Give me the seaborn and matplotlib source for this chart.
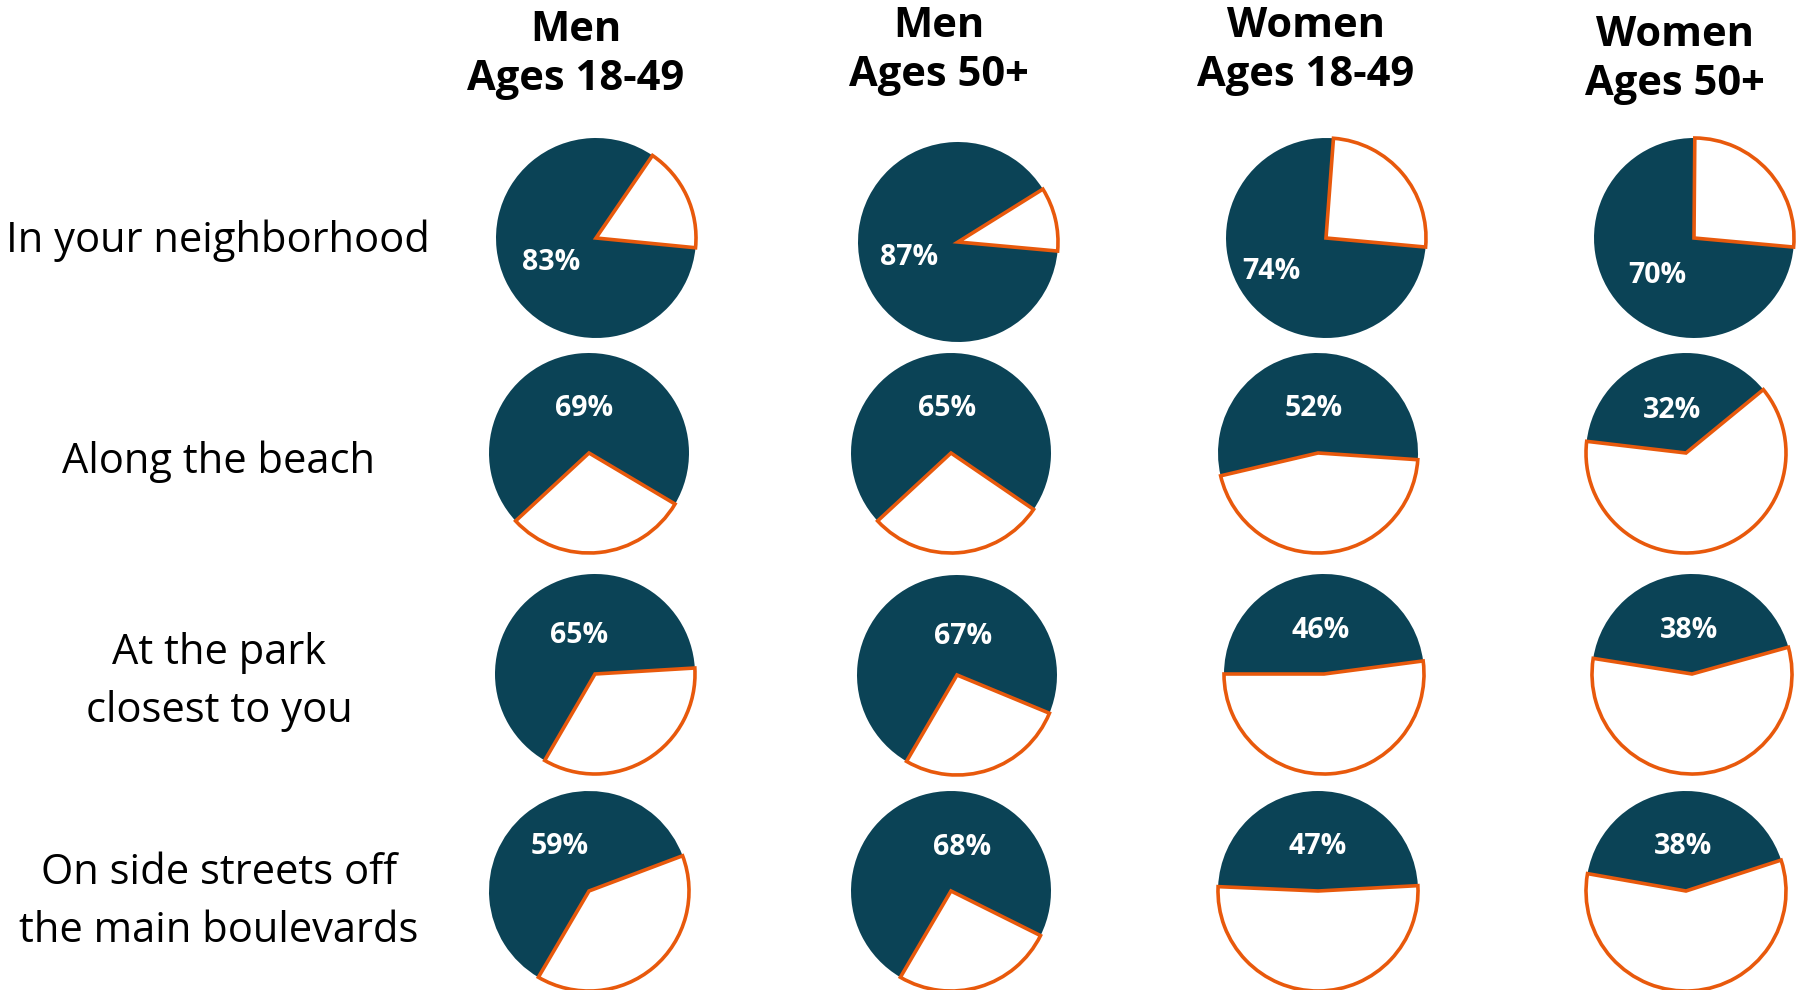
import numpy as np
import matplotlib
matplotlib.use("Agg")
import matplotlib.pyplot as plt
import seaborn as sns

sns.set_theme(style="white")
plt.rcParams['font.family'] = ['Open Sans', 'DejaVu Sans']

# data
groups = ["Men\nAges 18-49", "Men\nAges 50+", "Women\nAges 18-49", "Women\nAges 50+"]
places = ["In your neighborhood", "Along the beach",
          "At the park\nclosest to you", "On side streets off\nthe main boulevards"]
share = [[83, 87, 74, 70],
         [69, 65, 52, 32],
         [65, 67, 46, 38],
         [59, 68, 47, 38]]
rest = [[17, 10, 25, 25],
        [29, 26, 43, 54],
        [34, 25, 50, 50],
        [38, 24, 50, 52]]

# layout (pixels in a 1796x990 canvas)
W, H = 1796, 990
start = [[-5.6, -5.2, -5.2, -5.2],
         [-137.2, -137.2, 193.2, 173.3],
         [-120.2, -120.3, 180.0, 171.0],
         [-120.4, -120.4, 177.5, 170.0]]
centers = [[(596, 238), (958, 242), (1326, 238), (1694, 238)],
           [(589, 453), (951, 453), (1318, 453), (1686, 453)],
           [(595, 674), (957, 675), (1324, 674), (1692, 674)],
           [(589, 891), (951, 891), (1318, 891), (1686, 891)]]
# small nudges of the % labels (px, y down)
nudge = [[(0, 0), (0, 0), (-16, -2), (0, 0)],
         [(0, 2), (0, 2), (0, 2), (0, 2)],
         [(10, 1), (22, 5), (0, 3), (0, 3)],
         [(3, -10), (25, 1), (0, 2), (0, 2)]]
title_pos = [(576, 55), (939, 51), (1306, 51), (1675, 60)]
label_pos = [(218, 241), (219, 462), (219, 682), (219, 902)]

dark = "#0B4356"
orange = "#E8590C"
R = 100
pad = 1.03

fig = plt.figure(figsize=(W / 100, H / 100), dpi=100)

for i in range(4):
    for j in range(4):
        cx, cy = centers[i][j]
        rr = R * pad
        ax = fig.add_axes([(cx - rr) / W, 1 - (cy + rr) / H, 2 * rr / W, 2 * rr / H])
        wedges, _ = ax.pie([rest[i][j], share[i][j]], startangle=start[i][j],
                           colors=["white", dark], radius=1,
                           wedgeprops=dict(linewidth=0))
        wedges[0].set_edgecolor(orange)
        wedges[0].set_linewidth(2.6)
        wedges[0].set_joinstyle("miter")
        wedges[0].set_zorder(3)
        ax.set_xlim(-pad, pad)
        ax.set_ylim(-pad, pad)
        ax.set_aspect("equal")
        ax.axis("off")
        w = wedges[1]
        mid = np.deg2rad((w.theta1 + w.theta2) / 2)
        nx, ny = nudge[i][j]
        ax.text(0.5 * np.cos(mid) + nx / R, 0.5 * np.sin(mid) - 0.035 - ny / R,
                f"{share[i][j]}%", ha="center", va="center", color="white",
                fontsize=20.5, fontweight="bold", zorder=5)

for g, (x, y) in zip(groups, title_pos):
    fig.text(x / W, 1 - y / H, g, ha="center", va="center", fontsize=30,
             fontweight="bold", color="black", linespacing=1.27)

for p, (x, y) in zip(places, label_pos):
    fig.text(x / W, 1 - y / H, p, ha="center", va="center", fontsize=30,
             color="black", linespacing=1.52)

fig.savefig("out.png", dpi=100, facecolor="white")
